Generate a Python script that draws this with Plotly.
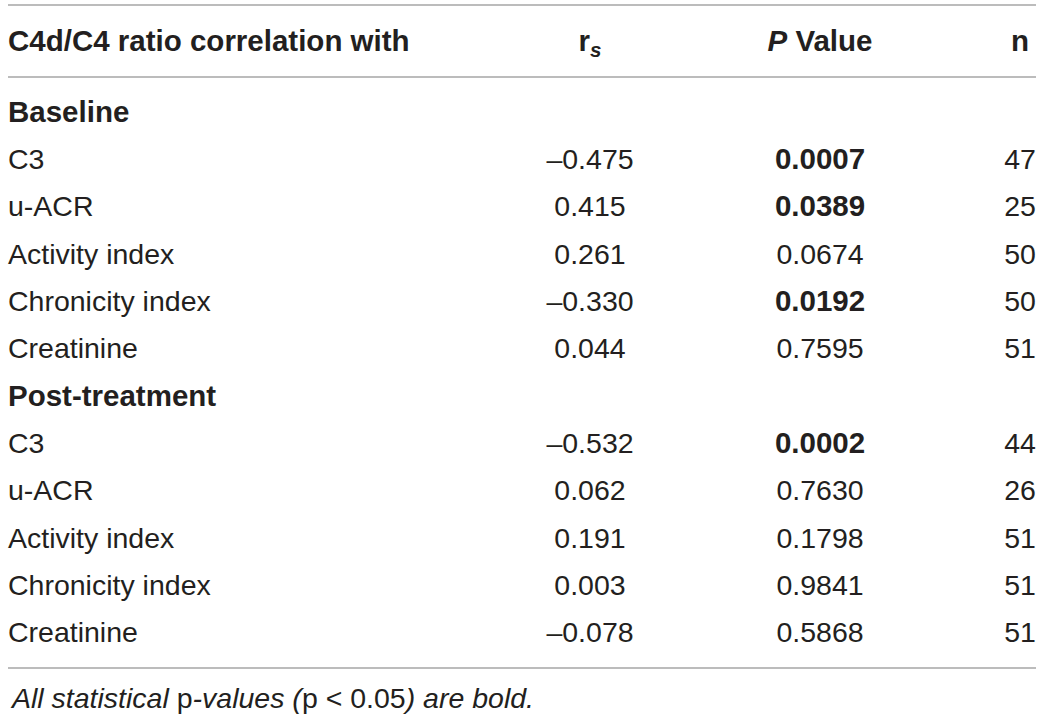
import plotly.graph_objects as go

# ---- data ----
header_label = "C4d/C4 ratio correlation with"
header_rs = "r<sub><i>s</i></sub>"
header_p = "<i>P</i> Value"
header_n = "n"

sections = ["Baseline", "Post-treatment"]
variables = ["C3", "u-ACR", "Activity index", "Chronicity index", "Creatinine"]

rs_baseline = [-0.475, 0.415, 0.261, -0.330, 0.044]
p_baseline = [0.0007, 0.0389, 0.0674, 0.0192, 0.7595]
n_baseline = [47, 25, 50, 50, 51]

rs_post = [-0.532, 0.062, 0.191, 0.003, -0.078]
p_post = [0.0002, 0.7630, 0.1798, 0.9841, 0.5868]
n_post = [44, 26, 51, 51, 51]

alpha = 0.05
footnote = ("<i>All statistical </i>p<i>-values (</i>p &lt; 0.05<i>) are bold.</i>")

# ---- build rows ----
TXT = "#231f20"
FONT = "Liberation Sans, Arial, Helvetica, sans-serif"
FS = 28.5
FSB = 29.5
DY = 0.05  # small baseline nudge for text rows

label_y, label_txt = [], []
sec_y, sec_txt = [], []
val_y, rs_txt, n_txt = [], [], []
p_y, p_txt = [], []
pb_y, pb_txt = [], []


def fmt_r(v):
    return f"{v:.3f}".replace("-", "\u2013")


row = 0
for sec, rs_list, p_list, n_list in [
    (sections[0], rs_baseline, p_baseline, n_baseline),
    (sections[1], rs_post, p_post, n_post),
]:
    sec_y.append(row + DY)
    sec_txt.append(f"<b>{sec}</b>")
    row += 1
    for var, r, p, n in zip(variables, rs_list, p_list, n_list):
        label_y.append(row + DY)
        label_txt.append(var)
        val_y.append(row + DY)
        rs_txt.append(fmt_r(r))
        if p < alpha:
            pb_y.append(row + DY)
            pb_txt.append(f"<b>{p:.4f}</b>")
        else:
            p_y.append(row + DY)
            p_txt.append(f"{p:.4f}")
        n_txt.append(str(n))
        row += 1

HEADER_Y = -1.45
X_LABEL, X_RS, X_P, X_N = 8, 590, 820, 1020

fig = go.Figure()


def add_text(x, y, text, pos, size=FS):
    fig.add_trace(go.Scatter(
        x=x, y=y, text=text, mode="text", textposition=pos,
        textfont=dict(family=FONT, size=size, color=TXT),
        hoverinfo="skip", showlegend=False, cliponaxis=False,
    ))


add_text([X_LABEL] * len(label_y), label_y, label_txt, "middle right")
add_text([X_LABEL] * len(sec_y), sec_y, sec_txt, "middle right", FSB)
add_text([X_RS] * len(val_y), val_y, rs_txt, "middle center")
add_text([X_P] * len(p_y), p_y, p_txt, "middle center")
add_text([X_P] * len(pb_y), pb_y, pb_txt, "middle center", FSB)
add_text([X_N] * len(val_y), val_y, n_txt, "middle center")

# header
add_text([X_LABEL], [HEADER_Y], [f"<b>{header_label}</b>"], "middle right", FSB)
add_text([X_RS], [HEADER_Y], [f"<b>{header_rs}</b>"], "middle center", FSB)
add_text([X_P], [HEADER_Y], [f"<b>{header_p}</b>"], "middle center", FSB)
add_text([X_N], [HEADER_Y], [f"<b>{header_n}</b>"], "middle center", FSB)

# rules
LINE = dict(color="#a6a6a6", width=1.5)
for yy in [-2.26, -0.74, 11.74]:
    fig.add_shape(type="line", xref="x", yref="y", x0=8, x1=1036, y0=yy, y1=yy, line=LINE)

fig.add_annotation(
    x=8, y=12.37, xref="x", yref="y", text=footnote, showarrow=False,
    xanchor="left", yanchor="middle",
    font=dict(family=FONT, size=FS, color=TXT),
)

fig.update_layout(
    width=1042, height=717,
    margin=dict(l=0, r=0, t=0, b=0),
    paper_bgcolor="white", plot_bgcolor="white",
    xaxis=dict(range=[0, 1042], visible=False, fixedrange=True),
    yaxis=dict(range=[12.774, -2.365], visible=False, fixedrange=True),
)

fig.write_html(
    "out.html",
    config={"displayModeBar": False},
    post_script="document.body.style.margin='0';document.body.style.overflow='hidden';",
)
